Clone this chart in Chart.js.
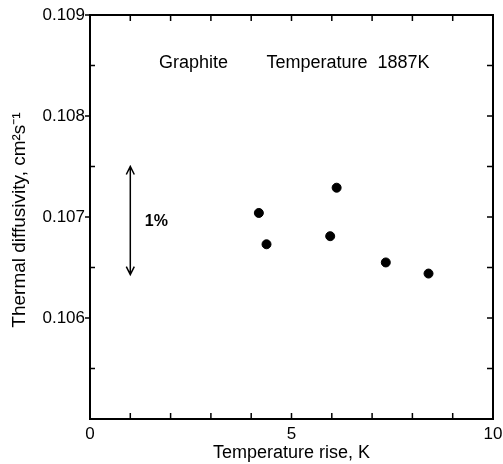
<!DOCTYPE html>
<html>
<head>
<meta charset="utf-8">
<script src="https://cdn.jsdelivr.net/npm/chart.js@4/dist/chart.umd.min.js"></script>
<style>
  html, body { margin: 0; padding: 0; background: #fff; }
  #wrap { width: 503px; height: 464px; }
</style>
</head>
<body>
<div id="wrap"><canvas id="grafico"></canvas></div>
<script>
// valores
const tempRise = [4.19, 4.38, 5.96, 6.12, 7.34, 8.40];
const difusividade = [0.10704, 0.10673, 0.10681, 0.10729, 0.10655, 0.10644];
const xTickLabels = [0, 5, 10];
const yTickLabels = ['0.106', '0.107', '0.108', '0.109'];
const faixa1pct = [0.10750, 0.10643]; // seta de 1% em x = 1

const fonte = '"Liberation Sans", Arial, Helvetica, sans-serif';

const marcasPlugin = {
    id: 'marcas',
    afterDraw(chart) {
        const ctx = chart.ctx;
        const x = chart.scales.x;
        const y = chart.scales.y;
        const area = chart.chartArea;
        ctx.save();
        ctx.strokeStyle = '#000';
        ctx.fillStyle = '#000';

        // moldura
        ctx.lineWidth = 2;
        ctx.strokeRect(area.left, area.top, area.right - area.left, area.bottom - area.top);

        // ticks horizontais (topo e base, para dentro)
        ctx.lineWidth = 1.5;
        x.ticks.forEach(t => {
            if (t.value <= x.min || t.value >= x.max) return;
            const px = x.getPixelForValue(t.value);
            ctx.beginPath();
            ctx.moveTo(px, area.top); ctx.lineTo(px, area.top + 6);
            ctx.moveTo(px, area.bottom); ctx.lineTo(px, area.bottom - 6);
            ctx.stroke();
        });

        // ticks verticais
        y.ticks.forEach(t => {
            if (t.value <= y.min + 1e-9) return;
            const py = y.getPixelForValue(t.value);
            const major = yTickLabels.includes(t.value.toFixed(3)) && Math.abs(t.value * 1000 - Math.round(t.value * 1000)) < 1e-6;
            ctx.beginPath();
            if (major) {
                ctx.moveTo(area.left - 5, py); ctx.lineTo(area.left, py);
            } else {
                ctx.moveTo(area.left, py); ctx.lineTo(area.left + 5, py);
            }
            if (t.value < y.max - 1e-9) {
                ctx.moveTo(area.right, py); ctx.lineTo(area.right - 6, py);
            }
            ctx.stroke();
        });

        // seta de 1%
        const ax = x.getPixelForValue(1);
        const yTop = y.getPixelForValue(faixa1pct[0]);
        const yBot = y.getPixelForValue(faixa1pct[1]);
        ctx.lineWidth = 1.5;
        ctx.beginPath();
        ctx.moveTo(ax, yTop); ctx.lineTo(ax, yBot);
        ctx.moveTo(ax - 4, yTop + 8); ctx.lineTo(ax, yTop); ctx.lineTo(ax + 4, yTop + 8);
        ctx.moveTo(ax - 4, yBot - 8); ctx.lineTo(ax, yBot); ctx.lineTo(ax + 4, yBot - 8);
        ctx.stroke();

        // textos
        ctx.textBaseline = 'middle';
        ctx.textAlign = 'left';
        ctx.font = 'bold 16px ' + fonte;
        ctx.fillText('1%', x.getPixelForValue(1.36), y.getPixelForValue(0.10695));

        ctx.font = '18px ' + fonte;
        ctx.fillText('Graphite', x.getPixelForValue(1.71), y.getPixelForValue(0.10852));
        ctx.fillText('Temperature  1887K', x.getPixelForValue(4.38), y.getPixelForValue(0.10852));

        // título do eixo y
        ctx.translate(20, (area.top + area.bottom) / 2 + 3);
        ctx.rotate(-Math.PI / 2);
        ctx.textAlign = 'center';
        ctx.font = '19px ' + fonte;
        ctx.fillText('Thermal diffusivity, cm\u00B2s\u207B\u00B9', 0, 0);
        ctx.restore();
    }
};

new Chart(document.getElementById('grafico'), {
    type: 'scatter',
    data: {
        datasets: [{
            data: tempRise.map((v, i) => ({ x: v, y: difusividade[i] })),
            backgroundColor: '#000',
            borderColor: '#000',
            pointRadius: 4.5,
            pointHoverRadius: 4.5
        }]
    },
    options: {
        responsive: true,
        maintainAspectRatio: false,
        animation: false,
        layout: { padding: { top: 15, right: 10, left: 0, bottom: 0 } },
        plugins: { legend: { display: false }, tooltip: { enabled: false } },
        scales: {
            x: {
                type: 'linear',
                min: 0,
                max: 10,
                afterFit: s => { s.height = 45; s.paddingLeft = 0; s.paddingRight = 0; },
                grid: { display: false, drawTicks: false },
                border: { display: false },
                ticks: {
                    stepSize: 1,
                    padding: 5,
                    maxRotation: 0,
                    autoSkip: false,
                    color: '#000',
                    font: { family: fonte, size: 17 },
                    callback: v => xTickLabels.includes(v) ? String(v) : ''
                },
                title: {
                    display: true,
                    text: 'Temperature rise, K',
                    color: '#000',
                    font: { family: fonte, size: 18 },
                    padding: { top: 0, bottom: 0 }
                }
            },
            y: {
                type: 'linear',
                min: 0.105,
                max: 0.109,
                afterFit: s => { s.width = 90; s.paddingTop = 0; s.paddingBottom = 0; },
                grid: { display: false, drawTicks: false },
                border: { display: false },
                ticks: {
                    stepSize: 0.0005,
                    padding: 5,
                    autoSkip: false,
                    color: '#000',
                    font: { family: fonte, size: 17 },
                    callback: v => {
                        const s = v.toFixed(3);
                        return yTickLabels.includes(s) && Math.abs(v * 1000 - Math.round(v * 1000)) < 1e-6 ? s : '';
                    }
                }
            }
        }
    },
    plugins: [marcasPlugin]
});
</script>
</body>
</html>
